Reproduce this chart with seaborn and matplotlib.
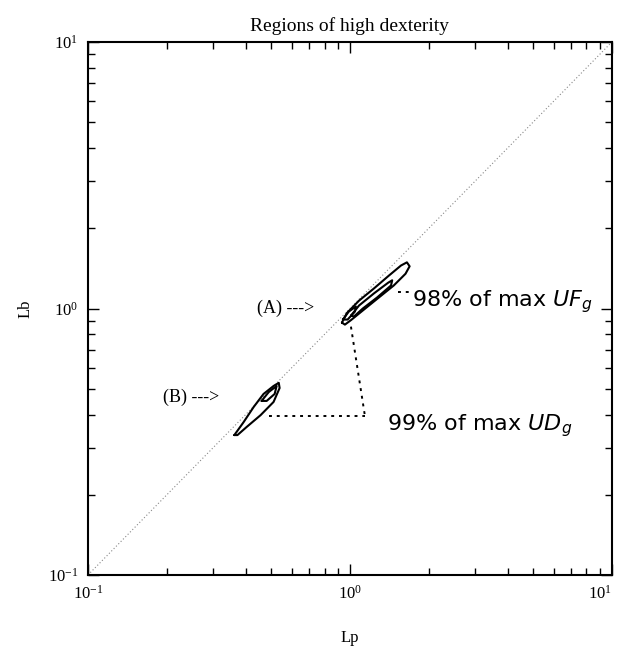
import numpy as np
import pandas as pd
import matplotlib
matplotlib.use("Agg")
import matplotlib.pyplot as plt
import seaborn as sns

# diagonal Lp = Lb
diag_lp = [0.1, 10.0]
diag_lb = [0.1, 10.0]

# decade tick labels
decades = [0.1, 1.0, 10.0]
decade_labels = ["$\\mathdefault{10^{-1}}$", "$\\mathdefault{10^{0}}$", "$\\mathdefault{10^{1}}$"]

# region (A): outer contour and inner contours (Lp, Lb)
a_outer_lp = [0.932, 0.974, 1.083, 1.236, 1.41, 1.567, 1.65, 1.69, 1.63, 1.47, 1.29, 1.13, 1.01, 0.957, 0.932]
a_outer_lb = [0.885, 0.962, 1.07, 1.19, 1.33, 1.45, 1.49, 1.44, 1.35, 1.22, 1.10, 0.99, 0.905, 0.87, 0.885]
a_inner_lp = [1.01, 1.083, 1.236, 1.40, 1.45, 1.435, 1.27, 1.12, 1.036, 1.01]
a_inner_lb = [0.941, 1.026, 1.14, 1.25, 1.276, 1.22, 1.10, 1.0, 0.933, 0.941]
a_small_lp = [0.94, 0.99, 1.054, 1.045, 0.98, 0.94]
a_small_lb = [0.909, 0.974, 1.017, 0.974, 0.909, 0.909]

# region (B)
b_outer_lp = [0.362, 0.393, 0.429, 0.468, 0.511, 0.535, 0.539, 0.511, 0.456, 0.403, 0.372, 0.362]
b_outer_lb = [0.335, 0.375, 0.427, 0.478, 0.512, 0.526, 0.503, 0.446, 0.398, 0.359, 0.335, 0.335]
b_inner_lp = [0.46, 0.49, 0.525, 0.516, 0.481, 0.46]
b_inner_lb = [0.45, 0.486, 0.512, 0.478, 0.45, 0.45]

sns.set_theme(style="ticks")
plt.rcParams['font.family'] = ['Liberation Serif', 'DejaVu Serif']
plt.rcParams['mathtext.fontset'] = 'dejavusans'
for k in ['text.color', 'axes.labelcolor', 'xtick.color', 'ytick.color', 'axes.edgecolor']:
    plt.rcParams[k] = 'black'

fig = plt.figure(figsize=(6.2, 6.49), dpi=100)
ax = fig.add_axes([0.1419, 0.114, 0.845, 0.8213])

sns.lineplot(x=diag_lp, y=diag_lb, ax=ax, color="#888888", lw=0.8,
             linestyle=(0, (1, 2)), sort=False, estimator=None)

contours = [(a_outer_lp, a_outer_lb), (a_inner_lp, a_inner_lb), (a_small_lp, a_small_lb),
            (b_outer_lp, b_outer_lb), (b_inner_lp, b_inner_lb)]
for lp, lb in contours:
    sns.lineplot(x=lp, y=lb, ax=ax, color="black", lw=1.5, sort=False, estimator=None)

ax.set_xscale("log")
ax.set_yscale("log")
ax.set_xlim(0.1, 10)
ax.set_ylim(0.1, 10)
ax.set_xticks(decades, decade_labels)
ax.set_yticks(decades, decade_labels)
ax.get_xticklabels()[-1].set_horizontalalignment("right")

# leader lines
dots = dict(color="black", lw=1.4, linestyle=(0, (1.5, 2.5)))
ax.plot([1.009, 1.141], [0.855, 0.395], **dots)
ax.plot([0.49, 1.141], [0.395, 0.395], **dots)
ax.plot([1.52, 1.70], [1.15, 1.15], **dots)

ax.text(0.44, 1.0, "(A) --->", fontsize=13, va="center", ha="left")
ax.text(0.194, 0.466, "(B) --->", fontsize=13, va="center", ha="left")
ax.text(1.73, 1.06, "98% of max $UF_g$", fontsize=16, va="center", ha="left",
        family="DejaVu Sans")
ax.text(1.39, 0.365, "99% of max $UD_g$", fontsize=16, va="center", ha="left",
        family="DejaVu Sans")

ax.set_title("Regions of high dexterity", fontsize=14, pad=8)
ax.set_xlabel("Lp", fontsize=12, labelpad=20)
ax.set_ylabel("Lb", fontsize=12, labelpad=10)

ax.tick_params(which="both", direction="in", top=True, right=True, labelsize=12)
ax.tick_params(which="major", length=8, width=1.0, pad=7)
ax.tick_params(which="minor", length=5, width=1.0)
for s in ax.spines.values():
    s.set_linewidth(1.5)

fig.savefig("out.png", dpi=100)
